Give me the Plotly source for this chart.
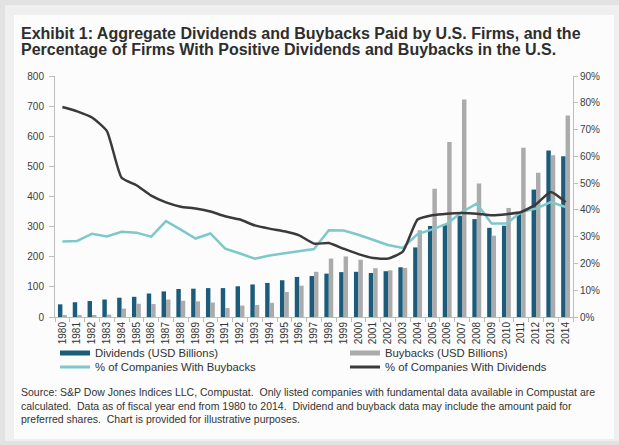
import plotly.graph_objects as go

years = [str(y) for y in range(1980, 2015)]

dividends = [42, 49, 53, 58, 64, 67, 78, 85, 93, 94,
             96, 96, 102, 108, 113, 122, 133, 136, 144, 149,
             150, 146, 152, 165, 231, 302, 308, 336, 325, 296,
             303, 341, 423, 553, 534]

buybacks = [4, 4, 6, 8, 28, 44, 43, 58, 54, 52,
            48, 30, 38, 40, 47, 83, 104, 150, 194, 201,
            190, 162, 155, 163, 288, 426, 581, 722, 443, 270,
            362, 562, 479, 537, 669]

pct_buybacks = [28.2, 28.4, 31.1, 30.1, 31.8, 31.5, 30.0, 35.8, 32.6, 29.3,
                31.2, 25.5, 23.7, 21.8, 23.0, 23.8, 24.5, 25.4, 32.4, 32.3,
                30.7, 28.8, 26.9, 25.8, 31.0, 32.7, 34.9, 39.2, 42.3, 34.9,
                34.9, 39.2, 40.5, 42.9, 41.1]

pct_dividends = [78.4, 76.8, 74.5, 69.5, 52.0, 49.2, 45.3, 42.8, 41.2, 40.5,
                 39.4, 37.6, 36.4, 34.2, 33.0, 32.0, 30.5, 27.4, 27.6, 25.5,
                 23.5, 22.0, 21.8, 24.4, 36.4, 38.0, 38.6, 38.8, 38.6, 38.0,
                 38.4, 39.2, 42.1, 46.7, 42.9]

left_ticks = [0, 100, 200, 300, 400, 500, 600, 700, 800]
right_ticks = [0, 10, 20, 30, 40, 50, 60, 70, 80, 90]
right_labels = [f"{v}%" for v in right_ticks]

BLUE = "#1b5c7c"
GRAY = "#ababab"
TEAL = "#7dc8cb"
DARK = "#3a3a3a"

fig = go.Figure()
fig.add_trace(go.Bar(x=years, y=dividends, marker_color=BLUE, marker_line_width=0,
                     name="Dividends (USD Billions)", showlegend=False))
fig.add_trace(go.Bar(x=years, y=buybacks, marker_color=GRAY, marker_line_width=0,
                     name="Buybacks (USD Billions)", showlegend=False))
fig.add_trace(go.Scatter(x=years, y=pct_buybacks, yaxis="y2", mode="lines",
                         line=dict(color=TEAL, width=2.5),
                         name="% of Companies With Buybacks", showlegend=False))
fig.add_trace(go.Scatter(x=years, y=pct_dividends, yaxis="y2", mode="lines",
                         line=dict(color=DARK, width=2.5, shape="spline", smoothing=0.5),
                         name="% of Companies With Dividends", showlegend=False))

W, H = 619, 445
L, R, T, B = 55, 46, 76, 128
pw, ph = W - L - R, H - T - B

def px(x):
    return (x - L) / pw

def py(y):
    return (H - B - y) / ph

# legend entries, each in its own legend box so the two-column layout is exact
legend_items = [
    ("Dividends (USD Billions)", BLUE, 5, "legend", 55, 353),
    ("Buybacks (USD Billions)", GRAY, 5, "legend2", 345, 353),
    ("% of Companies With Buybacks", TEAL, 3, "legend3", 55, 367),
    ("% of Companies With Dividends", DARK, 3, "legend4", 345, 367),
]
legend_layout = {}
for nm, col, w, lg, lx, ly in legend_items:
    fig.add_trace(go.Scatter(x=[None], y=[None], mode="lines", name=nm,
                             line=dict(color=col, width=w), yaxis="y2", legend=lg))
    legend_layout[lg] = dict(orientation="h", xanchor="left", yanchor="middle",
                             x=px(lx), y=py(ly), bgcolor="rgba(0,0,0,0)",
                             font=dict(family="Liberation Sans, Arial", size=11.3,
                                       color="#333333"),
                             itemwidth=30)

shapes = [
    dict(type="rect", xref="paper", yref="paper", x0=px(5), x1=px(619), y0=py(441), y1=py(5),
         fillcolor="#efefef", line_width=0, layer="below"),
    dict(type="rect", xref="paper", yref="paper", x0=px(14), x1=px(614), y0=py(439), y1=py(15),
         fillcolor="#fbfcfb", line_width=0, layer="below"),
]

TFONT = dict(family="Liberation Sans, Arial", size=16, color="#2e2e2e")
annotations = [
    dict(xref="paper", yref="paper", x=px(19), y=py(23), xanchor="left", yanchor="top",
         text="<b>Exhibit 1: Aggregate Dividends and Buybacks Paid by U.S. Firms, and the</b>",
         showarrow=False, font=TFONT),
    dict(xref="paper", yref="paper", x=px(19), y=py(39), xanchor="left", yanchor="top",
         text="<b>Percentage of Firms With Positive Dividends and Buybacks in the U.S.</b>",
         showarrow=False, font=TFONT),
    dict(xref="paper", yref="paper", x=px(19), y=py(384), xanchor="left", yanchor="top",
         align="left",
         text=("Source: S&amp;P Dow Jones Indices LLC, Compustat.  Only listed companies with fundamental data available in Compustat are<br>"
               "calculated.  Data as of fiscal year end from 1980 to 2014.  Dividend and buyback data may include the amount paid for<br>"
               "preferred shares.  Chart is provided for illustrative purposes."),
         showarrow=False, font=dict(family="Liberation Sans, Arial", size=10.5, color="#333333")),
]

fig.update_layout(
    width=W, height=H,
    margin=dict(l=L, r=R, t=T, b=B, pad=0, autoexpand=False),
    paper_bgcolor="#e2e2e2",
    plot_bgcolor="rgba(0,0,0,0)",
    barmode="group", bargap=0.4, bargroupgap=0,
    font=dict(family="Liberation Sans, Arial", color="#404040"),
    shapes=shapes,
    annotations=annotations,
    xaxis=dict(type="category", range=[-0.5, 34.5], showline=True, linecolor="#bdbdbd",
               linewidth=1, ticks="outside", tickson="boundaries", ticklen=4,
               tickcolor="#bdbdbd", tickangle=-90, tickfont=dict(size=10, color="#333333"),
               showgrid=False, zeroline=False, automargin=False),
    yaxis=dict(range=[0, 800], tickvals=left_ticks, showline=True, linecolor="#bdbdbd",
               linewidth=1, ticks="outside", ticklen=5, tickcolor="#bdbdbd",
               ticklabelstandoff=3,
               tickfont=dict(size=10, color="#404040"), showgrid=False, zeroline=False,
               automargin=False),
    yaxis2=dict(range=[0, 90], tickvals=right_ticks, ticktext=right_labels, overlaying="y",
                side="right", showline=True, linecolor="#bdbdbd", linewidth=1,
                ticks="outside", ticklen=4, tickcolor="#bdbdbd",
                tickfont=dict(size=10, color="#404040"), showgrid=False, zeroline=False,
                automargin=False),
    **legend_layout,
)

fig.write_html("out.html",
               config={"displayModeBar": False},
               post_script="document.body.style.margin='0px';document.body.style.overflow='hidden';")
